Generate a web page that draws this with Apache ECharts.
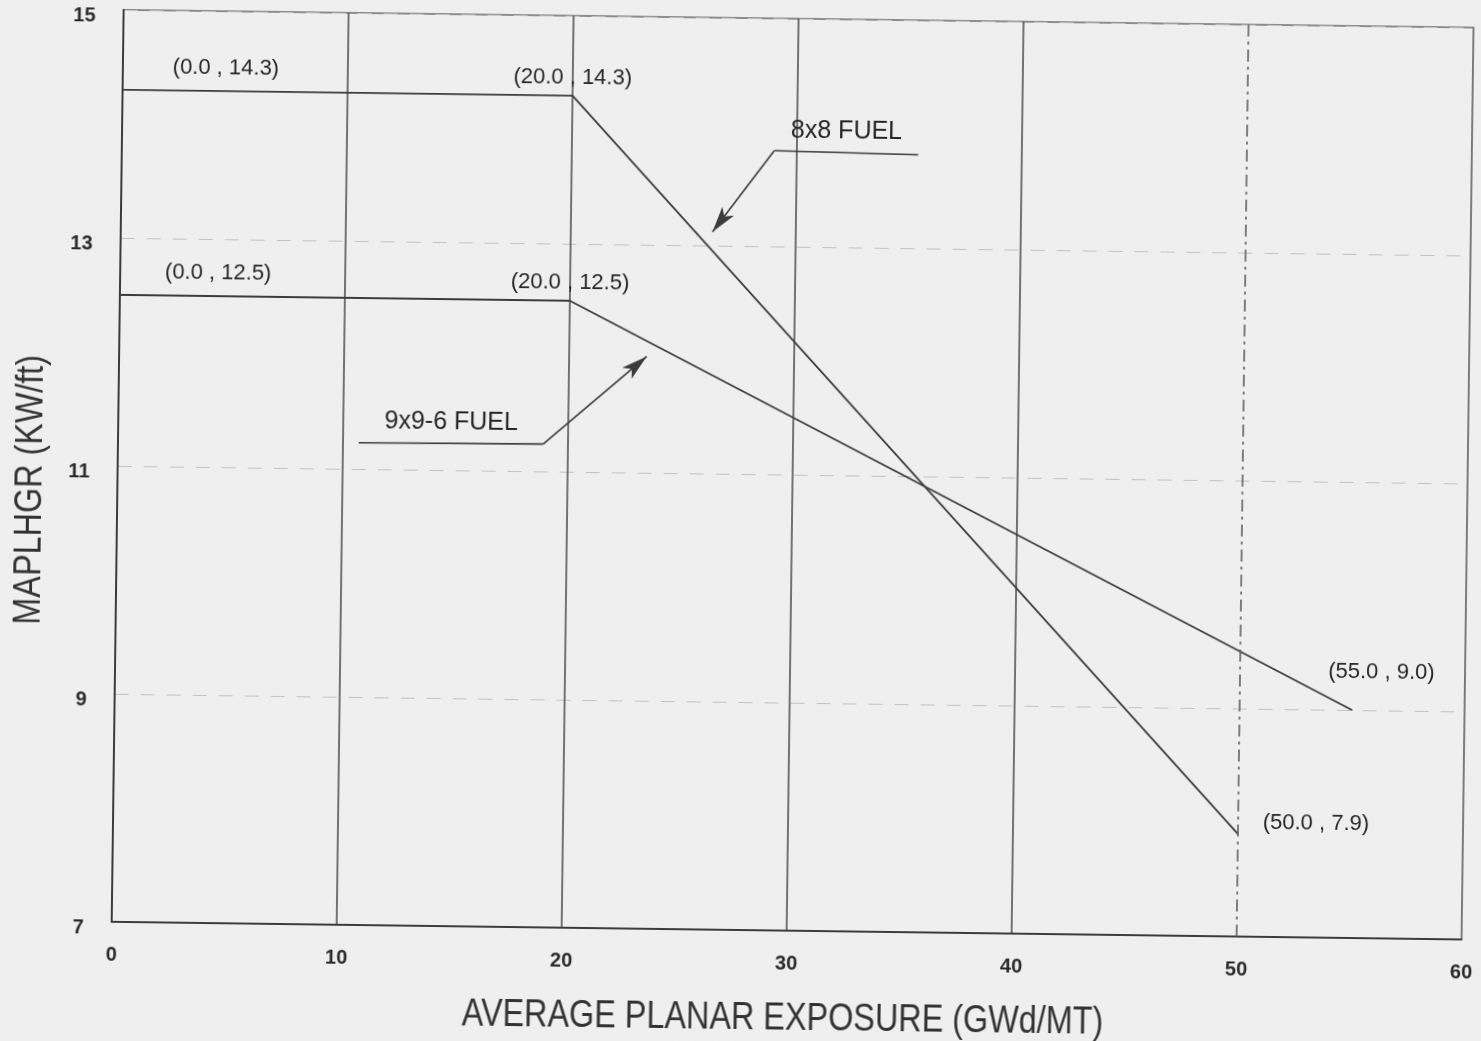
<!DOCTYPE html>
<html>
<head>
<meta charset="utf-8">
<script src="https://cdn.jsdelivr.net/npm/echarts@6/dist/echarts.min.js"></script>
<style>
  html, body { margin: 0; padding: 0; background: #efefef; overflow: hidden; }
  #chart { width: 1481px; height: 1041px; transform: rotate(0.75deg); transform-origin: 50% 50%; }
</style>
</head>
<body>
<div id="chart"></div>
<script>
// MAPLHGR limit curves versus average planar exposure
const fuelNames = ['8x8 FUEL', '9x9-6 FUEL'];
const exposure8x8 = [0.0, 20.0, 50.0];
const maplhgr8x8 = [14.3, 14.3, 7.9];
const exposure9x9 = [0.0, 20.0, 55.0];
const maplhgr9x9 = [12.5, 12.5, 9.0];
const xTickValues = [0, 10, 20, 30, 40, 50, 60];
const yTickValues = [7, 9, 11, 13, 15];
const xTitle = 'AVERAGE PLANAR EXPOSURE (GWd/MT)';
const yTitle = 'MAPLHGR (KW/ft)';

// label placement (pixels, relative to each vertex)
const vertexLabelOffsets = [
  [[103, -23], [0, -18], [78, -11]],
  [[98, -23], [0, -18], [29, -38]]
];
// callout placement in axis units: text anchor, leader start, elbow, arrow tip
const callouts = [
  { text: [32.2, 14.02], from: [35.4, 13.82], elbow: [29.0, 13.84], tip: [26.3, 13.12] },
  { text: [14.8, 11.42], from: [10.7, 11.23], elbow: [18.9, 11.24], tip: [23.45, 12.02] }
];

const ink = '#3c3c3c';
const labelFont = '"Liberation Sans", Arial, Helvetica, sans-serif';

function fmt(v) { return v.toFixed(1); }

function buildSeries(i, xs, ys) {
  const offsets = vertexLabelOffsets[i];
  const c = callouts[i];
  return {
    name: fuelNames[i],
    type: 'line',
    data: xs.map((x, k) => ({
      value: [x, ys[k]],
      label: {
        show: true,
        position: 'inside',
        offset: offsets[k],
        formatter: '(' + fmt(x) + ' , ' + fmt(ys[k]) + ')'
      }
    })),
    symbol: 'circle',
    symbolSize: 1,
    showSymbol: true,
    itemStyle: { color: ink },
    lineStyle: { color: ink, width: 1.8 },
    label: { color: '#262626', fontFamily: labelFont, fontSize: 22 },
    silent: true,
    markLine: {
      silent: true,
      animation: false,
      symbol: ['none', 'none'],
      label: { show: false },
      lineStyle: { color: ink, width: 1.6, type: 'solid' },
      data: [
        [{ coord: c.from }, { coord: c.elbow }],
        [{ coord: c.elbow }, { coord: c.tip, symbol: 'arrow', symbolSize: [11, 26] }]
      ]
    },
    markPoint: {
      silent: true,
      animation: false,
      data: [{
        coord: c.text,
        symbol: 'rect',
        symbolSize: 0,
        label: {
          show: true,
          position: 'inside',
          formatter: fuelNames[i],
          color: '#262626',
          fontFamily: labelFont,
          fontSize: 25
        }
      }]
    }
  };
}

const chart = echarts.init(document.getElementById('chart'), null, { renderer: 'canvas' });

const titleStyle = { fill: '#333', font: '39px "Liberation Sans", Arial, sans-serif' };

const option = {
  backgroundColor: '#efefef',
  animation: false,
  grid: {
    left: 117, right: 11, top: 18, bottom: 111,
    show: true,
    borderColor: '#6e6e6e',
    borderWidth: 1.5,
    backgroundColor: 'transparent'
  },
  // condensed axis titles
  graphic: [
    {
      type: 'text', x: 789, y: 1018, scaleX: 0.83, silent: true,
      style: Object.assign({ text: xTitle, align: 'center', verticalAlign: 'middle' }, titleStyle)
    },
    {
      type: 'text', x: 30, y: 499, rotation: Math.PI / 2, scaleX: 0.83, silent: true,
      style: Object.assign({ text: yTitle, align: 'center', verticalAlign: 'middle' }, titleStyle)
    }
  ],
  xAxis: {
    type: 'value',
    min: xTickValues[0],
    max: xTickValues[xTickValues.length - 1],
    interval: xTickValues[1] - xTickValues[0],
    axisLine: { show: true, lineStyle: { color: ink, width: 2 } },
    axisTick: { show: false },
    axisLabel: { color: '#2a2a2a', fontFamily: labelFont, fontSize: 20, fontWeight: 'bold', margin: 23 },
    splitLine: {
      show: true,
      lineStyle: {
        color: [ink, '#4a4a4a', '#4a4a4a', '#4a4a4a', '#4a4a4a', 'rgba(0,0,0,0)', '#777'],
        width: 1.5
      }
    }
  },
  yAxis: {
    type: 'value',
    min: yTickValues[0],
    max: yTickValues[yTickValues.length - 1],
    interval: yTickValues[1] - yTickValues[0],
    axisLine: { show: true, lineStyle: { color: ink, width: 2 } },
    axisTick: { show: false },
    axisLabel: {
      margin: 28,
      formatter: v => '{t|' + v + '}',
      rich: {
        t: { color: '#2a2a2a', fontFamily: labelFont, fontSize: 20, fontWeight: 'bold', padding: [12, 0, 0, 0] }
      }
    },
    splitLine: {
      show: true,
      lineStyle: { color: '#c2c2c2', width: 1.2, type: [14, 12] }
    }
  },
  series: [
    buildSeries(0, exposure8x8, maplhgr8x8),
    buildSeries(1, exposure9x9, maplhgr9x9),
    {
      // dash-dot grid line at 50 GWd/MT
      type: 'line',
      data: [],
      silent: true,
      markLine: {
        silent: true,
        animation: false,
        symbol: ['none', 'none'],
        label: { show: false },
        lineStyle: { color: '#5a5a5a', width: 1.5, type: [12, 5, 3, 5] },
        data: [{ xAxis: xTickValues[5] }]
      }
    }
  ]
};

chart.setOption(option);
</script>
</body>
</html>
